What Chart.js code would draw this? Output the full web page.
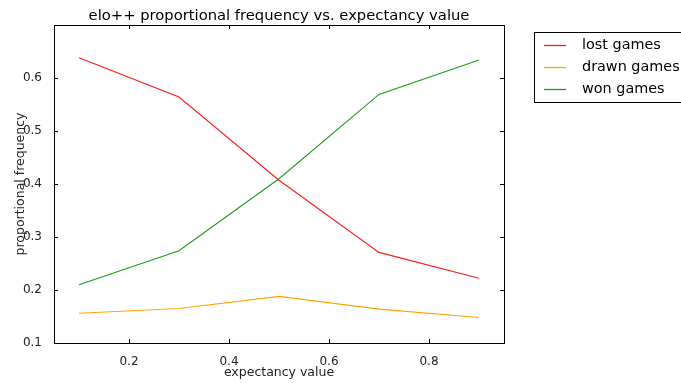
<!DOCTYPE html>
<html>
<head>
<meta charset="utf-8">
<script src="https://cdn.jsdelivr.net/npm/chart.js@4/dist/chart.umd.min.js"></script>
<style>
  html, body { margin: 0; padding: 0; background: #fff; }
  canvas { display: block; }
</style>
</head>
<body>
<canvas id="c" width="681" height="383"></canvas>
<script>
// ---- data ----
const expectancy = [0.1, 0.3, 0.5, 0.7, 0.9];
const lostGames  = [0.638, 0.564, 0.407, 0.271, 0.222];
const drawnGames = [0.156, 0.165, 0.188, 0.164, 0.148];
const wonGames   = [0.210, 0.274, 0.410, 0.569, 0.634];
const seriesLabels = ['lost games', 'drawn games', 'won games'];
const seriesColors = ['#ff1a1a', '#ffa500', '#1e9a1e'];
const xTickValues = [0.2, 0.4, 0.6, 0.8];
const yTickValues = [0.1, 0.2, 0.3, 0.4, 0.5, 0.6];
const chartTitle = 'elo++ proportional frequency vs. expectancy value';
const xTitle = 'expectancy value';
const yTitle = 'proportional frequency';

const FONT = 'DejaVu Sans';
Chart.defaults.font.family = FONT;
Chart.defaults.color = '#111';

function pts(vals) { return expectancy.map((x, i) => ({ x: x, y: vals[i] })); }
const seriesValues = [lostGames, drawnGames, wonGames];

const frameAndTicks = {
  id: 'frameAndTicks',
  afterDatasetsDraw(chart) {
    const ctx = chart.ctx;
    const a = chart.chartArea;
    const xs = chart.scales.x, ys = chart.scales.y;
    const L = 4;
    ctx.save();
    ctx.strokeStyle = '#000';
    ctx.lineWidth = 1;
    ctx.beginPath();
    xs.ticks.forEach(t => {
      const px = Math.round(xs.getPixelForValue(t.value)) + 0.5;
      ctx.moveTo(px, a.bottom); ctx.lineTo(px, a.bottom - L);
      ctx.moveTo(px, a.top); ctx.lineTo(px, a.top + L);
    });
    ys.ticks.forEach(t => {
      const py = Math.round(ys.getPixelForValue(t.value)) + 0.5;
      ctx.moveTo(a.left, py); ctx.lineTo(a.left + L, py);
      ctx.moveTo(a.right, py); ctx.lineTo(a.right - L, py);
    });
    ctx.stroke();
    ctx.strokeRect(Math.round(a.left) + 0.5, Math.round(a.top) + 0.5,
                   Math.round(a.right - a.left), Math.round(a.bottom - a.top));
    ctx.restore();
  }
};

const boxLegend = {
  id: 'boxLegend',
  afterDraw(chart) {
    const ctx = chart.ctx;
    ctx.save();
    ctx.lineWidth = 1;
    ctx.fillStyle = '#fff';
    ctx.fillRect(534.5, 32.5, 170, 70);
    ctx.strokeStyle = '#000';
    ctx.strokeRect(534.5, 32.5, 170, 70);
    ctx.font = '14.4px "' + FONT + '"';
    ctx.textBaseline = 'middle';
    ctx.textAlign = 'left';
    seriesLabels.forEach((lab, i) => {
      const y = 45 + i * 22;
      ctx.strokeStyle = seriesColors[i];
      ctx.lineWidth = 1.3;
      ctx.beginPath();
      ctx.moveTo(544, y + 0.5); ctx.lineTo(566, y + 0.5);
      ctx.stroke();
      ctx.fillStyle = '#000';
      ctx.fillText(lab, 582, y);
    });
    ctx.restore();
  }
};

new Chart(document.getElementById('c'), {
  type: 'line',
  data: {
    datasets: seriesLabels.map((lab, i) => ({
      label: lab,
      data: pts(seriesValues[i]),
      borderColor: seriesColors[i],
      backgroundColor: seriesColors[i],
      borderWidth: 1.1,
      pointRadius: 0,
      tension: 0,
      fill: false
    }))
  },
  options: {
    responsive: false,
    animation: false,
    devicePixelRatio: 1,
    layout: { padding: { left: 0, right: 177, top: 0, bottom: 0 } },
    plugins: {
      legend: { display: false },
      tooltip: { enabled: false },
      title: {
        display: true,
        text: chartTitle,
        fullSize: false,
        color: '#000',
        font: { family: FONT, size: 14.75, weight: 'normal', lineHeight: '17px' },
        padding: { top: 8, bottom: 0 }
      }
    },
    scales: {
      x: {
        type: 'linear',
        min: 0.05, max: 0.95,
        afterFit(s) { s.height = 40; },
        afterBuildTicks(s) { s.ticks = xTickValues.map(v => ({ value: v })); },
        grid: { display: false },
        border: { display: false },
        ticks: { padding: 4, color: '#222', font: { size: 12 }, maxRotation: 0,
                 callback: v => v.toFixed(1) },
        title: { display: true, text: xTitle, color: '#222',
                 font: { size: 12.5, lineHeight: 1.2 }, padding: { top: 0, bottom: 2.5 } }
      },
      y: {
        type: 'linear',
        min: 0.1, max: 0.7,
        afterFit(s) { s.width = 54; },
        afterBuildTicks(s) { s.ticks = yTickValues.map(v => ({ value: v })); },
        grid: { display: false },
        border: { display: false },
        ticks: { padding: 4, color: '#222', font: { size: 12 },
                 callback: v => v.toFixed(1) },
        title: { display: true, text: yTitle, color: '#222',
                 font: { size: 12.5, lineHeight: 1.2 }, padding: { top: 13, bottom: 0 } }
      }
    }
  },
  plugins: [frameAndTicks, boxLegend]
});
</script>
</body>
</html>
